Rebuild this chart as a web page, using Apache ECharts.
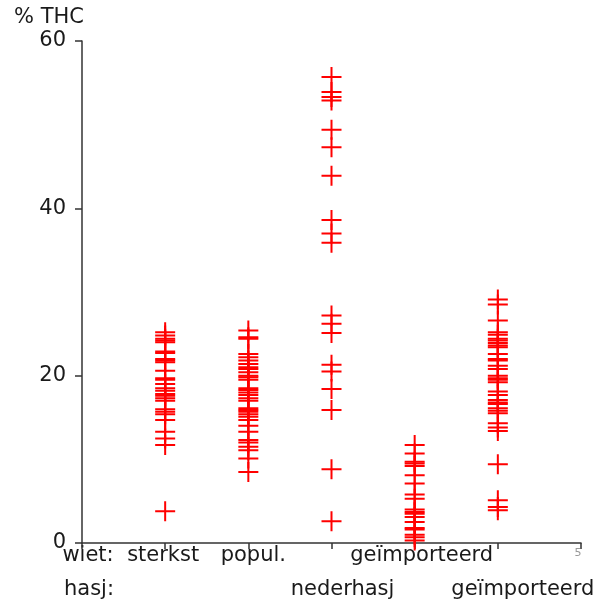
<!DOCTYPE html>
<html>
<head>
<meta charset="utf-8">
<script src="https://cdn.jsdelivr.net/npm/echarts@6/dist/echarts.min.js"></script>
<style>html,body{margin:0;padding:0;background:#fff;}#c{width:601px;height:605px;}</style>
</head>
<body>
<div id="c"></div>
<script>
// Column positions on the x axis
const columns = [1, 2, 3, 4, 5];
// Labels under the axis (row 1 = wiet, row 2 = hasj)
const rowTitles = ['wiet:', 'hasj:'];
const wietLabels = ['sterkst', 'popul.', '', 'geïmporteerd', ''];
const hasjLabels = ['', '', 'nederhasj', '', 'geïmporteerd'];
const yTicks = [0, 20, 40, 60];
const yTitle = '% THC';

// % THC values per group
const wietSterkst = [25.2, 24.8, 24.4, 24.2, 24.0, 22.9, 22.7, 22.0, 21.8, 21.6, 20.6, 19.7, 19.5, 19.0,
  18.5, 18.2, 17.8, 17.6, 17.3, 17.0, 16.0, 15.7, 15.4, 14.7, 13.3, 12.5, 11.7, 3.8];
const wietPopul = [25.4, 24.6, 24.4, 22.6, 22.2, 21.8, 21.4, 21.0, 20.8, 20.4, 20.0, 19.8, 19.5, 18.5,
  18.3, 18.0, 17.7, 17.3, 17.0, 16.1, 15.9, 15.7, 15.4, 15.1, 14.7, 14.0, 13.3, 12.3, 12.0, 11.5, 11.1, 10.1, 8.5];
const nederhasj = [55.7, 53.9, 53.3, 52.9, 49.4, 47.3, 43.9, 38.6, 37.0, 35.9, 27.2, 26.2, 25.1, 21.3,
  20.5, 18.4, 15.9, 8.8, 2.6];
const wietImport = [11.7, 10.7, 9.7, 9.5, 9.2, 8.1, 7.1, 5.8, 5.3, 4.0, 3.7, 3.5, 3.1, 2.5, 1.8, 1.6, 1.0, 0.7, 0.3];
const hasjImport = [29.1, 28.5, 26.6, 25.2, 24.9, 24.4, 24.2, 23.9, 23.6, 23.4, 22.6, 22.0, 21.8, 21.2,
  20.8, 20.0, 19.7, 19.5, 19.2, 18.1, 17.7, 17.1, 16.8, 16.6, 16.1, 15.8, 15.5, 14.3, 13.8, 13.4, 9.4, 5.1, 4.3, 3.9];

const groups = [wietSterkst, wietPopul, nederhasj, wietImport, hasjImport];
const points = [];
groups.forEach((vals, i) => vals.forEach(v => points.push([columns[i], v])));

const FONT = 'DejaVu Sans';
const chart = echarts.init(document.getElementById('c'), null, {renderer: 'canvas'});
const cross = 'path://M9,0h2v20h-2z M0,9h20v2h-20z';

chart.setOption({
  animation: false,
  backgroundColor: '#fff',
  grid: {left: 82, right: 20, top: 41, bottom: 62, containLabel: false},
  xAxis: {
    type: 'value', min: 0, max: 6, interval: 1,
    axisLine: {show: true, lineStyle: {color: '#333', width: 1.5}},
    axisTick: {show: true, length: 6, lineStyle: {color: '#333', width: 1.5}},
    axisLabel: {show: false},
    splitLine: {show: false}
  },
  yAxis: {
    type: 'value', min: 0, max: 60, interval: 20,
    axisLine: {show: true, lineStyle: {color: '#333', width: 1.5}},
    axisTick: {show: true, length: 7, lineStyle: {color: '#333', width: 1.5}},
    axisLabel: {show: true, color: '#1a1a1a', fontFamily: FONT, fontSize: 21, margin: 16,
      formatter: v => yTicks.indexOf(v) >= 0 ? String(v) : ''},
    splitLine: {show: false}
  },
  series: [{
    type: 'scatter',
    data: points,
    symbol: cross,
    symbolSize: 20,
    symbolKeepAspect: true,
    itemStyle: {color: '#ff0000', opacity: 1},
    clip: false
  }]
});

// Category labels below the axis
const rowY = [556, 590];
const offs1 = [-2, 5, 0, 7, 0];
const offs2 = [0, 0, 11, 0, 25];
const g = [];
const tf = '21px "' + FONT + '"';
g.push({type: 'text', left: 14, top: 7, style: {text: yTitle, font: tf, fill: '#1a1a1a'}});
const x0 = chart.convertToPixel({xAxisIndex: 0}, 0);
rowTitles.forEach((t, r) => {
  g.push({type: 'text', x: x0 + (r === 0 ? 6 : 7), y: rowY[r],
    style: {text: t, font: tf, fill: '#1a1a1a', align: 'center', verticalAlign: 'middle'}});
});
columns.forEach((c, i) => {
  const px = chart.convertToPixel({xAxisIndex: 0}, c);
  if (wietLabels[i]) g.push({type: 'text', x: px + offs1[i], y: rowY[0],
    style: {text: wietLabels[i], font: tf, fill: '#1a1a1a', align: 'center', verticalAlign: 'middle'}});
  if (hasjLabels[i]) g.push({type: 'text', x: px + offs2[i], y: rowY[1],
    style: {text: hasjLabels[i], font: tf, fill: '#1a1a1a', align: 'center', verticalAlign: 'middle'}});
});
const x6 = chart.convertToPixel({xAxisIndex: 0}, 6);
g.push({type: 'text', x: x6 - 3, y: 553, style: {text: '5', font: '11px "' + FONT + '"', fill: '#999', align: 'center', verticalAlign: 'middle'}});
chart.setOption({graphic: g});
</script>
</body>
</html>
